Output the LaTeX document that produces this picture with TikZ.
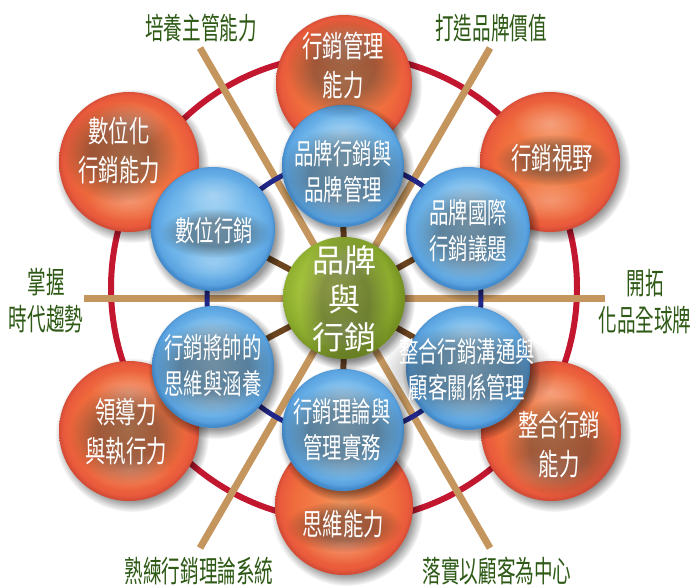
\documentclass[tikz,border=0pt]{standalone}
\usepackage{fontspec}
\newfontfamily\ballf[FakeStretch=0.68]{Noto Sans CJK TC}
\newfontfamily\labf[FakeStretch=0.62]{Noto Sans CJK TC}
\newfontfamily\cenf{Noto Sans CJK TC}
\usetikzlibrary{fadings,shadows}
\tikzfading[name=softspot, inner color=transparent!0, outer color=transparent!100]
\pgfdeclareradialshading{blobshade}{\pgfpointorigin}{color(0bp)=(pgftransparent!0); color(13bp)=(pgftransparent!0); color(25bp)=(pgftransparent!100); color(50bp)=(pgftransparent!100)}
\pgfdeclarefading{blobfade}{\pgfuseshading{blobshade}}
\definecolor{ringred}{HTML}{C3172F}
\definecolor{tan}{HTML}{C4965E}
\definecolor{navyc}{HTML}{22288A}
\definecolor{spokebrown}{HTML}{6B4420}
\definecolor{labgreen}{HTML}{2E5A16}
\definecolor{orA}{HTML}{F79A62}
\definecolor{orB}{HTML}{F3804A}
\definecolor{orC}{HTML}{EF6A3C}
\definecolor{orD}{HTML}{E95A3C}
\definecolor{orE}{HTML}{D44C36}
\definecolor{blA}{HTML}{A4D5F5}
\definecolor{blB}{HTML}{86C4EF}
\definecolor{blC}{HTML}{6DB4EA}
\definecolor{blD}{HTML}{5AA3E0}
\definecolor{blE}{HTML}{448BCC}
\definecolor{grA}{HTML}{CFE25E}
\definecolor{grB}{HTML}{AAC840}
\definecolor{grC}{HTML}{8CAC2E}
\definecolor{grD}{HTML}{748F22}
\pgfdeclareradialshading{orangeball}{\pgfpoint{0bp}{1bp}}{color(0bp)=(orA); color(9bp)=(orB); color(19bp)=(orC); color(23.5bp)=(orD); color(25bp)=(orE); color(50bp)=(orE)}
\pgfdeclareradialshading{blueball}{\pgfpoint{0bp}{2bp}}{color(0bp)=(blA); color(10bp)=(blB); color(19bp)=(blC); color(23.5bp)=(blD); color(25bp)=(blE); color(50bp)=(blE)}
\pgfdeclareradialshading{greenball}{\pgfpoint{-5bp}{5bp}}{color(0bp)=(grA); color(12bp)=(grB); color(22bp)=(grC); color(27bp)=(grD); color(50bp)=(grD)}
\tikzset{
  bt/.style={font=\ballf\fontsize{30}{39}\selectfont, align=center, inner sep=0pt, text=white},
  blt/.style={font=\ballf\fontsize{28.5}{36}\selectfont, align=center, inner sep=0pt, text=white},
  ct/.style={font=\cenf\fontsize{32}{38.5}\selectfont, align=center, inner sep=0pt, text=white},
  lab/.style={font=\labf\fontsize{30}{37}\selectfont, align=center, inner sep=0pt, text=labgreen},
  redring/.style={draw=ringred, line width=6pt},
  tanline/.style={draw=tan, line width=7pt},
  navyring/.style={draw=navyc, line width=5pt},
  spoke/.style={draw=spokebrown, line width=6pt},
  ballshadow/.style={fill=black, opacity=0.4, path fading=circle with fuzzy edge 15 percent},
  highlight/.style={fill=white, opacity=0.3, path fading=softspot},
  reflect/.style={fill=white, opacity=0.25, path fading=softspot},
  glowpatch/.style={fill=black!85, opacity=0.4, path fading=blobfade}
}
\newcommand\myball[4]{%
  \fill[ballshadow] (#1+3,#2+4) circle ({#3pt+7pt});
  \shade[shading=#4] (#1,#2) circle (#3pt);
  \fill[highlight] (#1,#2-0.55*#3) ellipse ({0.55*#3pt} and {0.32*#3pt});
  \fill[reflect] (#1,#2+0.55*#3) ellipse ({0.6*#3pt} and {0.3*#3pt});
}
% text on a ball, with a soft dark glow behind it
\newcommand\btx[7]{%
  \fill[glowpatch] (#2+1,#3+2) ellipse (#6pt and #7pt);
  \node[#4] (#1) at (#2,#3) {#5};
}
\begin{document}
\begin{tikzpicture}[x=1pt,y=-1pt]
\useasboundingbox (0,0) rectangle (694,586);
\fill[white] (0,0) rectangle (694,586);
% reference points
\coordinate (C) at (344,298);
\coordinate (R) at (344,288);
\coordinate (B1) at (343,166);
\coordinate (B2) at (468,229);
\coordinate (B3) at (213,229);
\coordinate (B4) at (213,367);
\coordinate (B5) at (468,368);
\coordinate (B6) at (343,430);
\coordinate (T1a) at (200,48);
\coordinate (T1b) at (490,548);
\coordinate (T2a) at (490,48);
\coordinate (T2b) at (200,548);
\coordinate (T3a) at (84,298);
\coordinate (T3b) at (605,298);
% rings and lines
\draw[redring] (R) circle (233pt);
\draw[tanline] (T1a) -- (T1b);
\draw[tanline] (T2a) -- (T2b);
\draw[tanline] (T3a) -- (T3b);
\draw[navyring] (C) circle (137pt);
\foreach \b in {B1,B2,B3,B4,B5,B6}{\draw[spoke] (C) -- (\b);}
% orange balls
\myball{344}{83}{68}{orangeball}
\myball{550}{162}{70}{orangeball}
\myball{129}{162}{70}{orangeball}
\myball{129}{431}{70}{orangeball}
\myball{551}{431}{70}{orangeball}
\myball{344}{506}{69}{orangeball}
% blue balls
\myball{343}{166}{61}{blueball}
\myball{468}{229}{62}{blueball}
\myball{213}{229}{62}{blueball}
\myball{213}{367}{61}{blueball}
\myball{468}{368}{62}{blueball}
\myball{343}{430}{61}{blueball}
% center ball
\myball{344}{298}{61}{greenball}
% ball texts
\btx{o1}{343}{66}{bt}{行銷管理\\能力}{58}{50}
\btx{o2}{552}{158}{bt}{行銷視野}{58}{26}
\btx{o3}{119}{151}{bt}{數位化\\行銷能力}{58}{50}
\btx{o4}{126}{432}{bt}{領導力\\與執行力}{58}{50}
\btx{o5}{559}{445}{bt}{整合行銷\\能力}{58}{50}
\btx{o6}{343}{524}{bt}{思維能力}{58}{26}
\btx{b1}{343}{172}{blt}{品牌行銷與\\品牌管理}{66}{47}
\btx{b2}{468}{231}{blt}{品牌國際\\行銷議題}{56}{47}
\btx{b3}{214}{231}{blt}{數位行銷}{56}{25}
\btx{b4}{213}{366}{blt}{行銷將帥的\\思維與涵養}{66}{47}
\btx{b5}{467}{370}{blt}{整合行銷溝通與\\顧客關係管理}{88}{47}
\btx{b6}{342}{430}{blt}{行銷理論與\\管理實務}{66}{47}
\btx{c0}{344}{299}{ct}{品牌\\與\\行銷}{46}{70}
% outer labels
\node[lab] (l1) at (201,28) {培養主管能力};
\node[lab] (l2) at (491,28) {打造品牌價值};
\node[lab] (l3) at (46,301) {掌握\\時代趨勢};
\node[lab] (l4) at (645,302) {開拓\\化品全球牌};
\node[lab] (l5) at (199,571) {熟練行銷理論系統};
\node[lab] (l6) at (497,571) {落實以顧客為中心};
\end{tikzpicture}
\end{document}
